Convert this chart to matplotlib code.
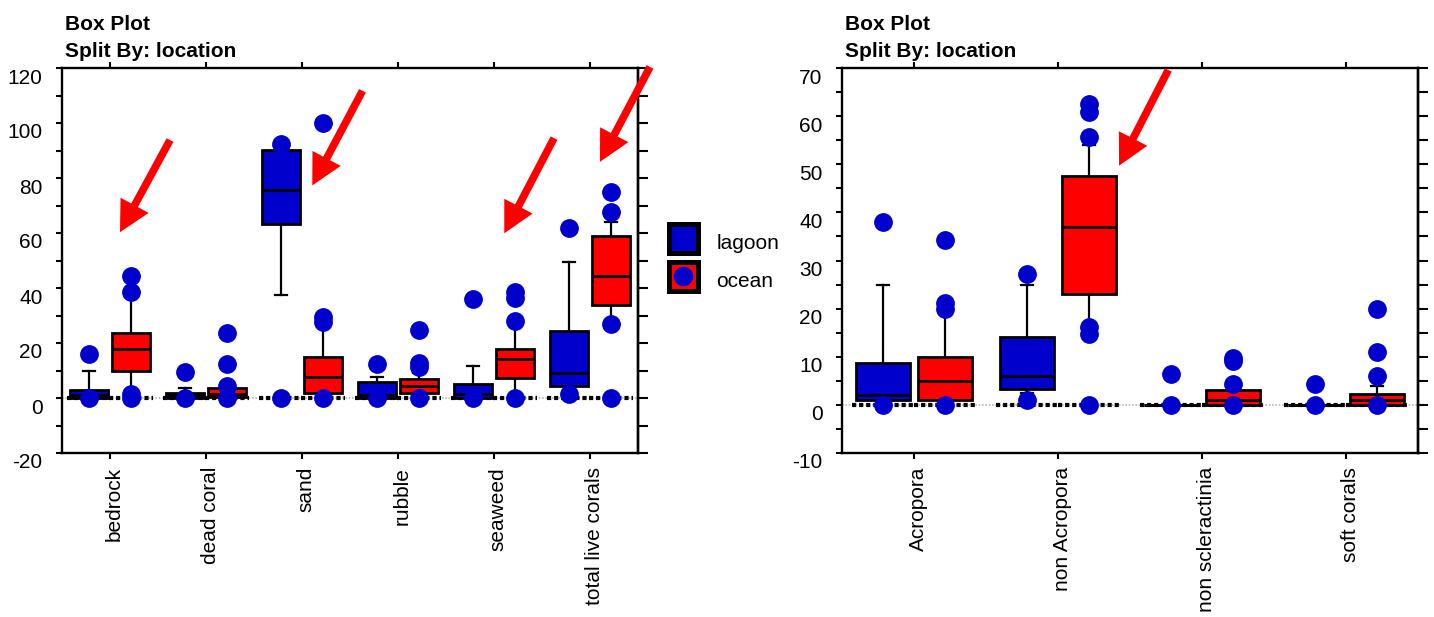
import matplotlib

matplotlib.use("Agg")
from matplotlib import pyplot as plt
from matplotlib.patches import Rectangle
from matplotlib.ticker import MultipleLocator
from matplotlib.transforms import ScaledTranslation
import numpy as np

plt.rcParams["font.family"] = ["Liberation Sans", "DejaVu Sans"]
plt.rcParams["font.size"] = 15
plt.rcParams["axes.unicode_minus"] = False

BLUE = "#0000cc"
RED = "#ff0000"

# left panel: substrate cover
left_cats = ["bedrock", "dead coral", "sand", "rubble", "seaweed", "total live corals"]
left_lagoon_q1 = [0, 0, 63.3, 0, 0, 4.2]
left_lagoon_med = [1, 1, 75.5, 1.2, 1.4, 9.2]
left_lagoon_q3 = [2.9, 2, 90.2, 5.9, 5, 24.5]
left_lagoon_lo = [0, 0, 37.5, 0, 0, 3]
left_lagoon_hi = [10, 3.5, 90.2, 7.8, 11.5, 49.5]
left_lagoon_fliers = [[16, 0], [9.5, 0], [92.4, 0], [12.2, 0], [35.9, 0], [61.8, 1.4]]

left_ocean_q1 = [10, 0.3, 2, 2, 7.2, 33.7]
left_ocean_med = [18, 1.5, 7.8, 4.3, 14.3, 44.5]
left_ocean_q3 = [23.6, 3.5, 15, 7, 18, 59]
left_ocean_lo = [2, 0, 0, 2, 0, 28]
left_ocean_hi = [37, 3.5, 27, 9, 27, 64]
left_ocean_fliers = [[44.4, 38.7, 1.5, 0], [23.6, 12.2, 4.4, 0], [100, 29.6, 27.6, 0],
                     [24.6, 12.8, 11.3, 0], [38.7, 36.3, 28, 0], [75, 67.5, 27, 0]]

# right panel: coral groups
right_cats = ["Acropora", "non Acropora", "non scleractinia", "soft corals"]
right_lagoon_q1 = [1, 3.4, 0, 0]
right_lagoon_med = [2.1, 5.9, 0, 0]
right_lagoon_q3 = [8.8, 14.2, 0, 0]
right_lagoon_lo = [0.5, 2.5, 0, 0]
right_lagoon_hi = [25, 25, 0, 0]
right_lagoon_fliers = [[37.9, 0], [27.2, 1], [6.4, 0], [4.3, 0]]

right_ocean_q1 = [1, 23, 0, 0]
right_ocean_med = [5, 37, 1, 1]
right_ocean_q3 = [10, 47.5, 3.05, 2.2]
right_ocean_lo = [0.5, 16.5, 0, 0]
right_ocean_hi = [19, 54, 3.05, 4]
right_ocean_fliers = [[34.2, 21.1, 19.9, 0], [62.6, 60.8, 55.7, 16.2, 14.7, 0],
                      [9.8, 9.1, 4.3, 0], [19.9, 10.9, 6, 0]]

# red arrows (tail, tip) in data coordinates
left_arrows = [((0.625, 93.8), (0.104, 60.3)), ((2.63, 111.7), (2.107, 77.3)),
               ((4.625, 94.5), (4.107, 59.9)), ((5.625, 120.4), (5.104, 85.9))]
right_arrows = [((1.766, 69.6), (1.424, 49.7))]

legend_labels = ["lagoon", "ocean"]
legend_colors = [BLUE, RED]


def make_stats(q1, med, q3, lo, hi, fliers):
    return [dict(q1=a, med=b, q3=c, whislo=d, whishi=e, fliers=f)
            for a, b, c, d, e, f in zip(q1, med, q3, lo, hi, fliers)]


def draw_panel(ax, cats, lagoon, ocean, ylim, major, offset, width, capw, arrows):
    pos = np.arange(len(cats))
    ax.axhline(0, color="#b8b8b8", lw=1.2, ls=(0, (1, 1)), zorder=0)
    for stats, color, sign in [(lagoon, BLUE, -1), (ocean, RED, 1)]:
        p = pos + sign * offset
        ax.hlines(np.zeros(len(p)), p - width / 2 - 0.03, p + width / 2 + 0.03,
                  color="black", lw=3, ls=(0, (1, 0.7)), zorder=1)
        ax.bxp(stats, positions=p, widths=width, capwidths=capw, patch_artist=True,
               manage_ticks=False,
               boxprops=dict(facecolor=color, edgecolor="black", lw=2),
               medianprops=dict(color="black", lw=2),
               whiskerprops=dict(color="black", lw=1.6),
               capprops=dict(color="black", lw=1.6),
               flierprops=dict(marker="o", markerfacecolor=BLUE, markeredgecolor=BLUE,
                               markersize=12.5, zorder=5))
    for tail, tip in arrows:
        ax.annotate("", xy=tip, xytext=tail, annotation_clip=False,
                    arrowprops=dict(facecolor=RED, edgecolor="none", width=5.5,
                                    headwidth=23, headlength=22, shrink=0))
    ax.set_xlim(-0.5, len(cats) - 0.5)
    ax.set_ylim(*ylim)
    ax.set_xticks(pos, cats, rotation=90)
    ax.yaxis.set_major_locator(MultipleLocator(major))
    ax.yaxis.set_minor_locator(MultipleLocator(major / 2))
    for s in ax.spines.values():
        s.set_linewidth(1.7)
    ax.tick_params(which="both", direction="out", top=True, width=1.5, length=4)
    ax.tick_params(axis="y", which="both", pad=10)
    ax.tick_params(axis="x", pad=6)
    for lab in ax.get_yticklabels():
        lab.set_transform(lab.get_transform() + ScaledTranslation(0, -0.08, fig.dpi_scale_trans))
    for lab in ax.get_xticklabels():
        lab.set_transform(lab.get_transform() + ScaledTranslation(0.04, 0, fig.dpi_scale_trans))
    sec = ax.secondary_yaxis("right")
    sec.yaxis.set_major_locator(MultipleLocator(major))
    sec.yaxis.set_minor_locator(MultipleLocator(major / 2))
    sec.tick_params(which="both", direction="out", length=7, width=1.5, labelright=False)
    sec.spines["right"].set_linewidth(1.7)


fig = plt.figure(figsize=(14.34, 6.17), dpi=100)
ax1 = fig.add_axes([62 / 1434, 164 / 617, 576 / 1434, 385 / 617])
ax2 = fig.add_axes([842 / 1434, 164 / 617, 576 / 1434, 385 / 617])

draw_panel(ax1, left_cats,
           make_stats(left_lagoon_q1, left_lagoon_med, left_lagoon_q3, left_lagoon_lo,
                      left_lagoon_hi, left_lagoon_fliers),
           make_stats(left_ocean_q1, left_ocean_med, left_ocean_q3, left_ocean_lo,
                      left_ocean_hi, left_ocean_fliers),
           (-20, 120), 20, 0.22, 0.4, 0.125, left_arrows)
draw_panel(ax2, right_cats,
           make_stats(right_lagoon_q1, right_lagoon_med, right_lagoon_q3, right_lagoon_lo,
                      right_lagoon_hi, right_lagoon_fliers),
           make_stats(right_ocean_q1, right_ocean_med, right_ocean_q3, right_ocean_lo,
                      right_ocean_hi, right_ocean_fliers),
           (-10, 70), 10, 0.215, 0.375, 0.085, right_arrows)

for x in (65, 845):
    fig.text(x / 1434, 1 - 30 / 617, "Box Plot", fontweight="bold", va="baseline")
    fig.text(x / 1434, 1 - 57 / 617, "Split By: location", fontweight="bold", va="baseline")

# legend drawn by hand in a pixel-space overlay
lax = fig.add_axes([0, 0, 1, 1])
lax.set_xlim(0, 1434)
lax.set_ylim(617, 0)
lax.axis("off")
for i, (label, color) in enumerate(zip(legend_labels, legend_colors)):
    top = 223.5 + 38 * i
    lax.add_patch(Rectangle((668.5, top), 29.7, 29.7, facecolor=color,
                            edgecolor="black", lw=3.6))
    if i == 1:
        lax.plot(683.4, top + 14.85, "o", color=BLUE, markersize=13)
    lax.text(716.5, top + 20, label, va="center", ha="left")

fig.savefig("out.png", dpi=100)
plt.close(fig)
